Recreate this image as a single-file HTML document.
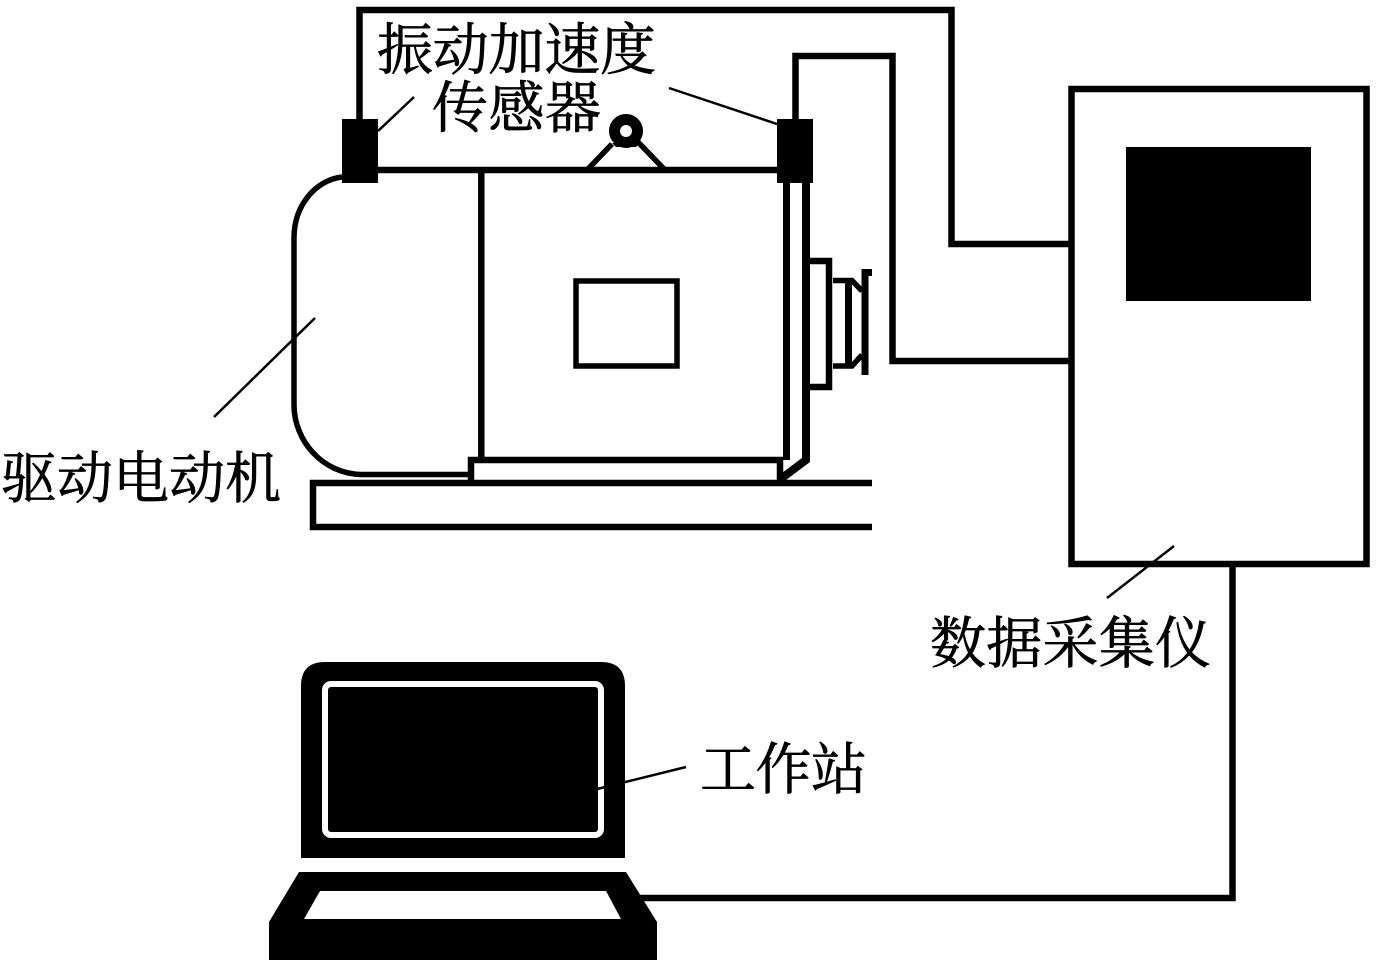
<!DOCTYPE html>
<html lang="zh">
<head>
<meta charset="utf-8">
<style>
html,body{margin:0;padding:0;background:#fff;}
svg{display:block;}
text{font-family:"Liberation Serif","Noto Serif CJK SC",serif;font-size:56px;fill:#000;stroke:#000;stroke-width:.7px;}
</style>
</head>
<body>
<svg width="1385" height="967" viewBox="0 0 1385 967" xmlns="http://www.w3.org/2000/svg">
<rect width="1385" height="967" fill="#fff"/>
<g fill="none" stroke="#000" stroke-width="6.500">
  <!-- wiring -->
  <polyline points="359.500,119 359.500,10 951.500,10 951.500,244 1070,244"/>
  <polyline points="795.500,119 795.500,56 892.500,56 892.500,361 1070,361"/>
  <polyline points="1232.500,565 1232.500,898 640,898"/>
  <!-- DAQ -->
  <rect x="1071.500" y="89" width="295" height="475"/>
  <!-- motor -->
  <line x1="378" y1="170" x2="777" y2="170"/>
  <line x1="481.300" y1="170" x2="481.300" y2="458"/>
  <path d="M342,177 C316,180 294,205 294,238 L294,405 C294,440 322,474 362,474.500 L470,474.500" stroke-width="5.500"/>
  <polyline points="471,480 471,460 780,460 780,480"/>
  <line x1="786.500" y1="183" x2="786.500" y2="460" stroke-width="7"/>
  <polyline points="806,183 806,460 782,478" stroke-width="8"/>
  <!-- base -->
  <polyline points="872,483 313,483 313,527 872,527"/>
  <!-- window -->
  <rect x="576" y="281" width="101" height="85" stroke-width="5.500"/>
  <!-- pulley -->
  <polyline points="810,261 829,261 829,387 810,387"/>
  <polyline points="833,280.500 852,280.500 862,291" stroke-width="5.500"/>
  <polyline points="833,366 852,366 862,355" stroke-width="5.500"/>
  <line x1="848.500" y1="280" x2="848.500" y2="366" stroke-width="7"/>
  <polyline points="872,272.500 865,272.500 865,375" stroke-width="7"/>
  <!-- ring legs -->
  <polyline points="588,169 612,144" stroke-width="5.500"/>
  <polyline points="638,142 664,169" stroke-width="5.500"/>
  <path d="M612,143 L640,143 L636,147 L616,147 Z" fill="#000" stroke="none"/>
  <circle cx="626" cy="131" r="11.500" stroke-width="11"/>
</g>
<g fill="none" stroke="#000" stroke-width="2.500">
  <line x1="378" y1="131" x2="414" y2="97"/>
  <line x1="669" y1="88" x2="777" y2="124"/>
  <line x1="214" y1="417" x2="315" y2="318"/>
  <line x1="1107" y1="598" x2="1174" y2="546"/>
</g>
<!-- sensors -->
<rect x="342" y="119" width="36" height="64" fill="#000"/>
<rect x="777" y="119" width="36" height="64" fill="#000"/>
<!-- DAQ screen -->
<rect x="1126" y="147" width="185" height="154" fill="#000"/>
<!-- laptop -->
<path d="M301,858 L301,686 Q301,662 325,662 L601,662 Q625,662 625,686 L625,858 Z" fill="#000"/>
<rect x="325" y="684" width="276" height="151" rx="6" fill="#000" stroke="#fff" stroke-width="6"/>
<path d="M299,872 L626,872 L657,922 L657,960 L269,960 L269,922 Z" fill="#000"/>
<path d="M320,891 L606,891 L621,919 L304,919 Z" fill="#fff"/>
<line x1="597" y1="789" x2="686" y2="767" stroke="#000" stroke-width="2.500"/>
<!-- labels -->
<text x="377" y="69.500" textLength="279" lengthAdjust="spacing">振动加速度</text>
<text x="432" y="127.500" textLength="169" lengthAdjust="spacing">传感器</text>
<text x="1" y="498" textLength="280" lengthAdjust="spacing">驱动电动机</text>
<text x="930" y="663" textLength="281" lengthAdjust="spacing">数据采集仪</text>
<text x="700" y="789" textLength="167" lengthAdjust="spacing">工作站</text>
</svg>
</body>
</html>
